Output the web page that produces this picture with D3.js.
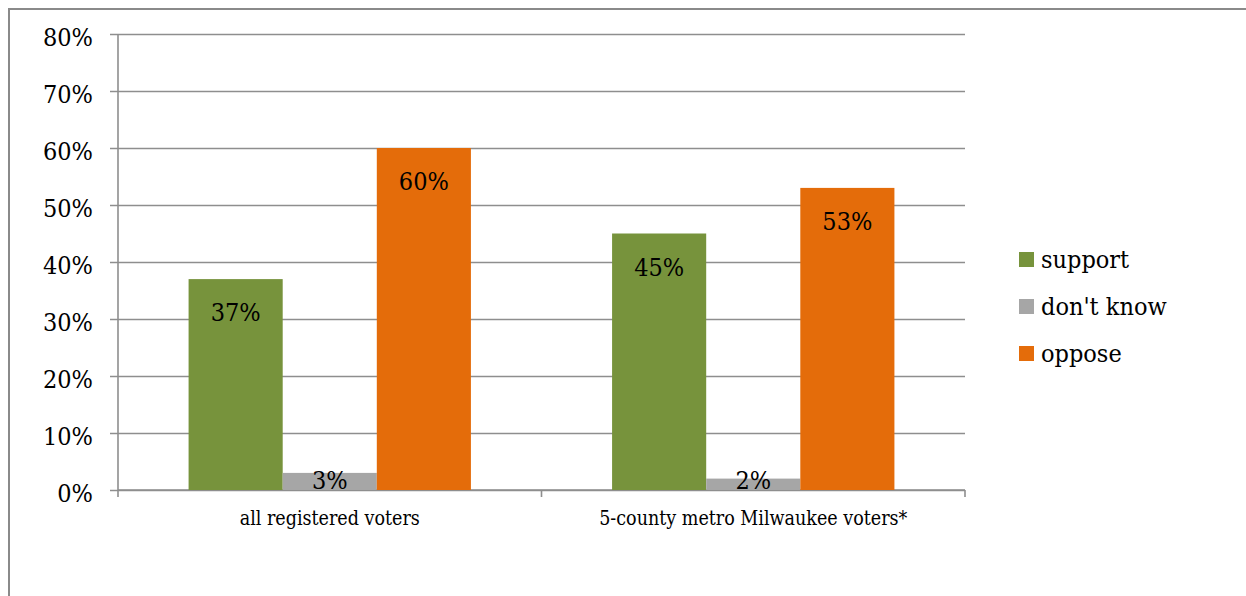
<!DOCTYPE html>
<html>
<head>
<meta charset="utf-8">
<script src="https://cdn.jsdelivr.net/npm/d3@7"></script>
<style>
  html, body { margin: 0; padding: 0; background: #fff; }
  svg { display: block; }
  text { font-family: "DejaVu Serif Condensed", "DejaVu Serif", serif; font-stretch: condensed; fill: #000; }
</style>
</head>
<body>
<svg id="chart" width="1246" height="596"></svg>
<script>
// Survey responses by group
const categories = ["all registered voters", "5-county metro Milwaukee voters*"];
const seriesNames = ["support", "don't know", "oppose"];
const support = [0.37, 0.45];
const dontKnow = [0.03, 0.02];
const oppose = [0.60, 0.53];
const yTicks = [0, 0.1, 0.2, 0.3, 0.4, 0.5, 0.6, 0.7, 0.8];
const colors = ["#77933C", "#A6A6A6", "#E46C0A"];

const seriesValues = [support, dontKnow, oppose];
const rows = categories.map((c, i) => ({
  category: c,
  values: seriesNames.map((s, j) => ({ series: s, value: seriesValues[j][i], color: colors[j] }))
}));

const svg = d3.select("#chart");
const plot = { left: 118, right: 965, top: 34, bottom: 490 };

// chart frame
svg.append("rect")
  .attr("x", 9).attr("y", 9)
  .attr("width", 1260).attr("height", 620)
  .attr("fill", "none").attr("stroke", "#8a8a8a").attr("stroke-width", 2);

const y = d3.scaleLinear().domain([0, 0.8]).range([plot.bottom, plot.top]);
const x0 = d3.scaleBand().domain(categories).range([plot.left, plot.right]).padding(0);
const x1 = d3.scaleBand().domain(seriesNames).range([0, x0.bandwidth()]).paddingInner(0).paddingOuter(0.75);

const gridColor = "#8e8e8e";

// horizontal gridlines with short ticks left of the axis
const yAxis = d3.axisLeft(y).tickValues(yTicks).tickFormat(d3.format(".0%"))
  .tickSize(-(plot.right - plot.left)).tickPadding(25);
const gy = svg.append("g").attr("transform", `translate(${plot.left},0)`).call(yAxis);
gy.select(".domain").remove();
gy.selectAll(".tick line")
  .attr("x1", -8)
  .attr("stroke", gridColor).attr("stroke-width", 1.6);
gy.selectAll(".tick text")
  .attr("font-size", 25)
  .attr("dy", "0.45em")
  .style("font-family", null);

// vertical axis line
svg.append("line")
  .attr("x1", plot.left).attr("x2", plot.left)
  .attr("y1", plot.top).attr("y2", plot.bottom)
  .attr("stroke", gridColor).attr("stroke-width", 1.6);

// category axis: ticks at band boundaries
const boundaries = [plot.left].concat(categories.map(c => x0(c) + x0.bandwidth()));
svg.append("g").selectAll("line").data(boundaries).join("line")
  .attr("x1", d => d).attr("x2", d => d)
  .attr("y1", plot.bottom).attr("y2", plot.bottom + 7)
  .attr("stroke", gridColor).attr("stroke-width", 1.6);
svg.append("line")
  .attr("x1", plot.left).attr("x2", plot.right)
  .attr("y1", plot.bottom).attr("y2", plot.bottom)
  .attr("stroke", gridColor).attr("stroke-width", 1.6);

svg.append("g").selectAll("text").data(categories).join("text")
  .attr("x", d => x0(d) + x0.bandwidth() / 2)
  .attr("y", plot.bottom + 35)
  .attr("text-anchor", "middle")
  .attr("font-size", 19.5)
  .text(d => d);

// bars
const groups = svg.append("g").selectAll("g").data(rows).join("g")
  .attr("transform", d => `translate(${x0(d.category)},0)`);

groups.selectAll("rect").data(d => d.values).join("rect")
  .attr("x", d => x1(d.series))
  .attr("width", x1.bandwidth())
  .attr("y", d => y(d.value))
  .attr("height", d => y(0) - y(d.value))
  .attr("fill", d => d.color);

// value labels inside the top of each bar
const pct = d3.format(".0%");
groups.selectAll("text").data(d => d.values).join("text")
  .attr("x", d => x1(d.series) + x1.bandwidth() / 2)
  .attr("y", d => Math.min(y(d.value) + 42, y(0) - 1))
  .attr("text-anchor", "middle")
  .attr("font-size", 25)
  .text(d => pct(d.value));

// legend
const legend = svg.append("g").attr("transform", "translate(1019,252)");
const items = legend.selectAll("g").data(seriesNames).join("g")
  .attr("transform", (d, i) => `translate(0,${i * 47})`);
items.append("rect").attr("width", 15).attr("height", 15).attr("fill", (d, i) => colors[i]);
items.append("text").attr("x", 22).attr("y", 16).attr("font-size", 25).text(d => d);
</script>
</body>
</html>
